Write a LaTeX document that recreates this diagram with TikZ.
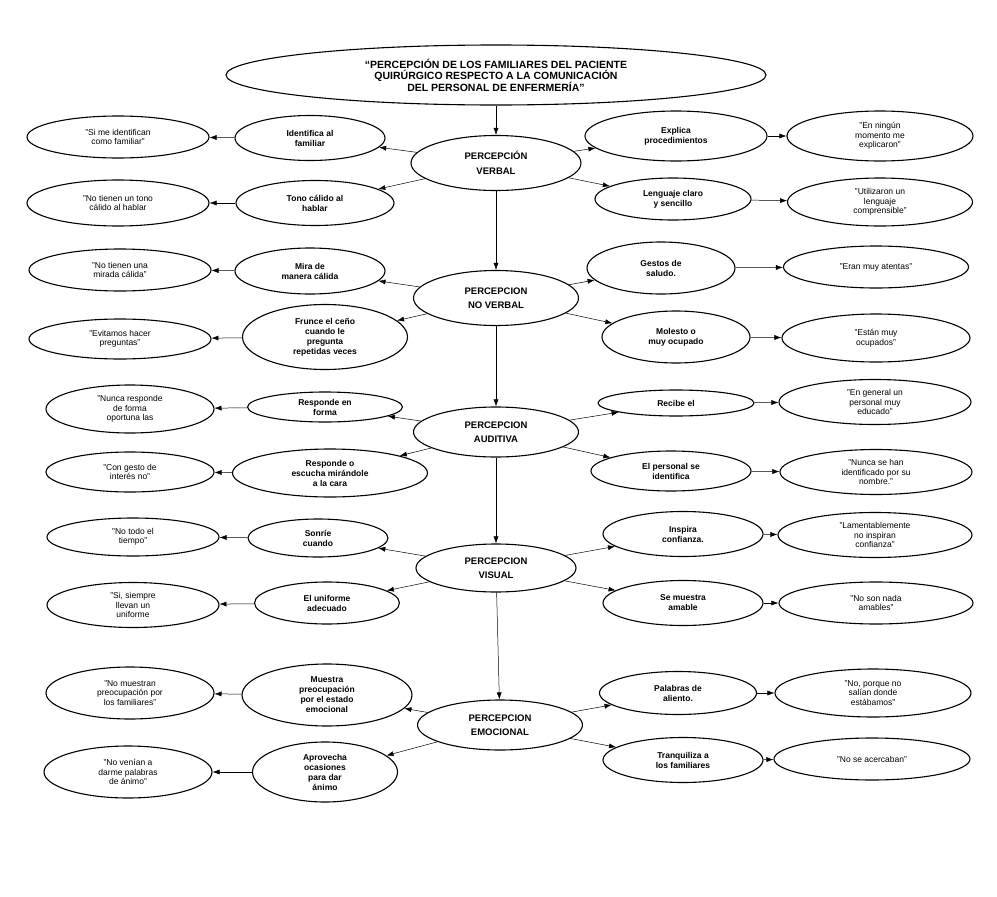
\documentclass[tikz,border=0pt]{standalone}
\usepackage{fontspec}
\setmainfont{Liberation Sans}
\usetikzlibrary{shapes.geometric,arrows.meta}
\begin{document}
\begin{tikzpicture}[x=1pt,y=-1pt,
  base/.style={ellipse,draw,line width=1.1pt,inner sep=0pt,align=center},
  cat/.style={base,font=\fontsize{9.5}{11.5}\selectfont\bfseries},
  ttl/.style={base,font=\fontsize{10.5}{11.5}\selectfont\bfseries},
  mid/.style={base,font=\fontsize{8.5}{10}\selectfont\bfseries},
  quo/.style={base,font=\fontsize{8.5}{9.5}\selectfont},
  ar/.style={-{Latex[length=7pt,width=5pt]},line width=0.5pt}]
\useasboundingbox (0,0) rectangle (997,897);
\newcommand\E[6]{\node[#1,minimum width=#4pt,minimum height=#5pt] (#2) at #3 {#6};}
\E{ttl}{T}{(496,75)}{540}{60}{``PERCEPCIÓN DE LOS FAMILIARES DEL PACIENTE\\QUIRÚRGICO RESPECTO A LA COMUNICACIÓN\\DEL PERSONAL DE ENFERMERÍA''}
\E{cat}{C1}{(496,163)}{170}{55}{PERCEPCIÓN\\[3pt]VERBAL}
\E{cat}{C2}{(496,298)}{165}{55}{PERCEPCION\\[3pt]NO VERBAL}
\E{cat}{C3}{(496,432)}{165}{50}{PERCEPCION\\[3pt]AUDITIVA}
\E{cat}{C4}{(496,568)}{160}{48}{PERCEPCION\\[3pt]VISUAL}
\E{cat}{C5}{(500,725)}{165}{50}{PERCEPCION\\[3pt]EMOCIONAL}
% left middle
\E{mid}{L1}{(310,138)}{150}{45}{Identifica al\\familiar}
\E{mid}{L2}{(315,203)}{158}{45}{Tono cálido al\\hablar}
\E{mid}{L3}{(310,271)}{150}{46}{Mira de\\manera cálida}
\E{mid}{L4}{(325,337)}{165}{65}{Frunce el ceño\\cuando le\\pregunta\\repetidas veces}
\E{mid}{L5}{(325,407)}{155}{30}{Responde en\\forma}
\E{mid}{L6}{(330,473)}{195}{48}{Responde o\\escucha mirándole\\a la cara}
\E{mid}{L7}{(318,538)}{140}{38}{Sonríe\\cuando}
\E{mid}{L8}{(327,603)}{145}{42}{El uniforme\\adecuado}
\E{mid}{L9}{(327,695)}{170}{62}{Muestra\\preocupación\\por el estado\\emocional}
\E{mid}{L10}{(325,772)}{145}{60}{Aprovecha\\ocasiones\\para dar\\ánimo}
% left quotes
\E{quo}{Q1}{(118,137)}{182}{42}{"Si me identifican\\como familiar"}
\E{quo}{Q2}{(118,203)}{182}{46}{"No tienen un tono\\cálido al hablar}
\E{quo}{Q3}{(120,270)}{182}{42}{"No tienen una\\mirada cálida"}
\E{quo}{Q4}{(120,339)}{182}{40}{"Evitamos hacer\\preguntas"}
\E{quo}{Q5}{(130,409)}{168}{48}{"Nunca responde\\de forma\\oportuna las}
\E{quo}{Q6}{(130,472)}{168}{40}{"Con gesto de\\interés no"}
\E{quo}{Q7}{(133,537)}{172}{38}{"No todo el\\tiempo"}
\E{quo}{Q8}{(133,605)}{172}{45}{"Si, siempre\\llevan un\\uniforme}
\E{quo}{Q9}{(130,693)}{168}{52}{"No muestran\\preocupación por\\los familiares"}
\E{quo}{Q10}{(128,772)}{168}{52}{"No venían a\\darme palabras\\de ánimo"}
% right middle
\E{mid}{R1}{(676,136)}{182}{50}{Explica\\procedimientos}
\E{mid}{R2}{(673,199)}{156}{42}{Lenguaje claro\\y sencillo}
\E{mid}{R3}{(661,268)}{148}{52}{Gestos de\\saludo.}
\E{mid}{R4}{(676,337)}{148}{52}{Molesto o\\muy ocupado}
\E{mid}{R5}{(676,403)}{156}{26}{Recibe el}
\E{mid}{R6}{(671,471)}{160}{40}{El personal se\\identifica}
\E{mid}{R7}{(683,534)}{160}{45}{Inspira\\confianza.}
\E{mid}{R8}{(683,603)}{160}{45}{Se muestra\\amable}
\E{mid}{R9}{(678,693)}{157}{43}{Palabras de\\aliento.}
\E{mid}{R10}{(683,760)}{160}{45}{Tranquiliza a\\los familiares}
% right quotes
\E{quo}{S1}{(880,136)}{186}{50}{"En ningún\\momento me\\explicaron"}
\E{quo}{S2}{(880,202)}{185}{48}{"Utilizaron un\\lenguaje\\comprensible"}
\E{quo}{S3}{(876,267)}{185}{42}{"Eran muy atentas"}
\E{quo}{S4}{(876,338)}{188}{48}{"Están muy\\ocupados"}
\E{quo}{S5}{(875,402)}{192}{45}{"En general un\\personal muy\\educado"}
\E{quo}{S6}{(876,472)}{192}{45}{"Nunca se han\\identificado por su\\nombre."}
\E{quo}{S7}{(875,535)}{194}{45}{"Lamentablemente\\no inspiran\\confianza"}
\E{quo}{S8}{(876,603)}{194}{42}{"No son nada\\amables"}
\E{quo}{S9}{(873,693)}{196}{48}{"No, porque no\\salían donde\\estábamos"}
\E{quo}{S10}{(872,759)}{196}{42}{"No se acercaban"}
% spine
\draw[ar] (T) -- (C1);
\draw[ar] (C1) -- (C2);
\draw[ar] (C2) -- (C3);
\draw[ar] (C3) -- (C4);
\draw[ar] (C4) -- (C5);
% branches
\foreach \c/\a/\b in {C1/L1/L2,C2/L3/L4,C3/L5/L6,C4/L7/L8,C5/L9/L10}{
  \draw[ar] (\c) -- (\a); \draw[ar] (\c) -- (\b);}
\foreach \c/\a/\b in {C1/R1/R2,C2/R3/R4,C3/R5/R6,C4/R7/R8,C5/R9/R10}{
  \draw[ar] (\c) -- (\a); \draw[ar] (\c) -- (\b);}
\foreach \i in {1,...,10}{
  \draw[ar] (L\i) -- (Q\i);
  \draw[ar] (R\i) -- (S\i);}
\end{tikzpicture}
\end{document}
